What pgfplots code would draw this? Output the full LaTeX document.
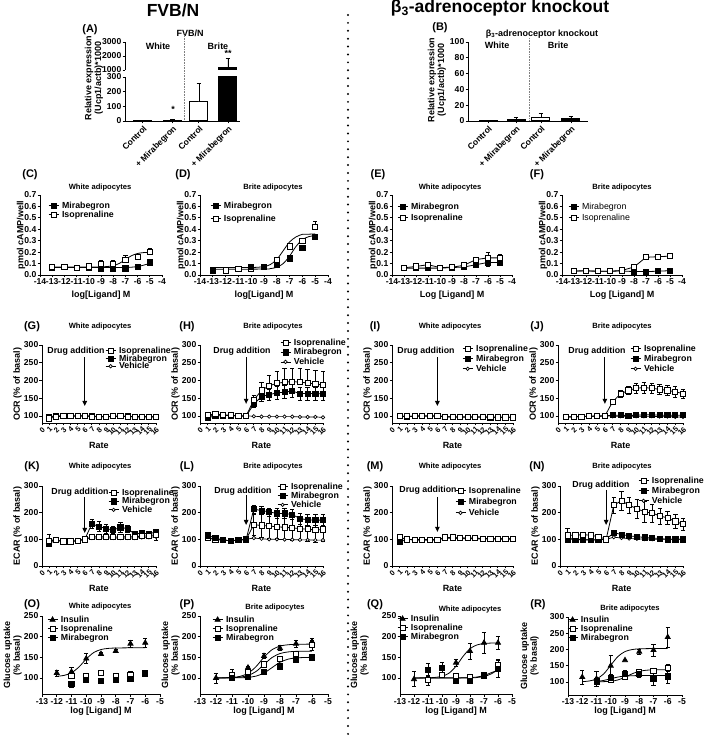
\documentclass[border=0pt]{standalone}
\usepackage{fontspec}
\setmainfont{Liberation Sans}
\usepackage{pgfplots}
\pgfplotsset{compat=1.18}
\usetikzlibrary{arrows.meta}

\newcommand{\tf}{\bfseries\fontsize{8.6}{9}\selectfont}
\newcommand{\lf}{\bfseries\fontsize{9}{9.8}\selectfont}
\newcommand{\gf}{\bfseries\fontsize{8.8}{9}\selectfont}
\newcommand{\ttl}{\bfseries\fontsize{7.6}{9}\selectfont}
\newcommand{\pl}{\bfseries\fontsize{11}{12}\selectfont}

\pgfplotsset{
 base/.style={
  scale only axis, axis lines*=left, clip=false,
  axis line style={line width=0.9pt},
  tick align=outside, major tick length=2.5pt,
  every tick/.style={black, line width=0.8pt},
  /pgf/number format/assume math mode=true,
  /pgf/number format/1000 sep={},
  scaled ticks=false,
  tick label style={font=\tf, inner sep=1pt},
  xlabel style={font=\lf, inner sep=1pt},
  ylabel style={font=\lf, align=center, inner sep=1pt},
  legend style={draw=none, fill=none, font=\gf, inner sep=0pt, anchor=north west,
     nodes={inner sep=0pt, inner xsep=3pt, text height=6.4pt, text depth=1.3pt}},
  legend cell align=left,
  legend image code/.code={\draw[##1] (0pt,0pt) -- (10pt,0pt); \draw[##1] plot coordinates {(5pt,0pt)};},
  error bars/error bar style={line width=0.7pt, solid},
  error bars/error mark options={rotate=90, mark size=2.2pt, line width=0.7pt},
 },
 camp/.style={base, height=80pt, xmin=-14, xmax=-4, xtick={-14,-13,-12,-11,-10,-9,-8,-7,-6,-5,-4},
  ymin=0, ymax=0.7, ytick={0,0.1,0.2,0.3,0.4,0.5,0.6,0.7},
  yticklabel style={/pgf/number format/fixed, /pgf/number format/fixed zerofill, /pgf/number format/precision=1},
  ylabel={pmol cAMP/well}, ylabel shift=-3pt, xlabel shift=4pt},
 rate/.style={base, xmin=0, xmax=16, xtick={0,...,16},
  xticklabel style={rotate=45, anchor=north east, font=\bfseries\fontsize{7.4}{7.4}\selectfont, inner sep=0.5pt},
  xlabel={Rate}, xlabel shift=4pt},
 ocr/.style={rate, height=78pt, ymin=80, ymax=300, ytick={100,150,200,250,300}, ylabel={OCR (\% of basal)}},
 ecar/.style={rate, height=80pt, ymin=0, ymax=300, ytick={0,100,200,300}, ylabel={ECAR (\% of basal)}},
 glu/.style={base, xmin=-13, xmax=-5, xtick={-13,...,-5}, xlabel={log [Ligand] M}, ylabel={Glucose uptake\\(\% basal)}},
 mira/.style={black, mark=square*, mark size=2.6pt, line width=0.8pt},
 iso/.style={black, mark=square*, mark size=2.6pt, mark options={fill=white}, line width=0.8pt},
 veh/.style={black, mark=*, mark size=1.7pt, mark options={fill=white}, line width=0.7pt},
 ins/.style={black, mark=triangle*, mark size=2.9pt, line width=0.8pt},
 errb/.style={error bars/.cd, y dir=both, y explicit},
 errp/.style={error bars/.cd, y dir=plus, y explicit},
 fit/.style={black, smooth, no markers, line width=0.8pt, forget plot},
}

\begin{document}
\begin{tikzpicture}[x=1pt,y=1pt]
\useasboundingbox (0,0) rectangle (709,739);

% ---------- headers ----------
\node[font=\bfseries\fontsize{17.5}{18}\selectfont] at (173,729) {FVB/N};
\node[font=\bfseries\fontsize{17.5}{18}\selectfont] at (500,731) {β\textsubscript{3}-adrenoceptor knockout};
\draw[line width=2.2pt, line cap=round, dash pattern=on 0pt off 7.9pt] (348,724) -- (348,0);

% ---------- (A) ----------
\node[font=\pl] at (90,709) {(A)};
\node[font=\lf] at (190,706) {FVB/N};
\node[font=\lf] at (158,693) {White};
\node[font=\lf] at (218,693) {Brite};
\draw[densely dotted, gray, line width=0.6pt] (184,706) -- (184,618);
\node[font=\lf, rotate=90, align=center] at (94,661) {Relative expression\\(Ucp1/actb)*1000};
\begin{axis}[base, at={(125pt,618pt)}, anchor=south west, width=115pt, height=44pt,
  xmin=0, xmax=4, ymin=0, ymax=300, ytick={0,100,200,300},
  xtick={0.62,1.65,2.57,3.58}, xticklabels={Control,+ Mirabegron,Control,+ Mirabegron},
  xticklabel style={rotate=45, anchor=north east, font=\bfseries\fontsize{8.5}{9}\selectfont}]
\addplot[ybar, bar width=18pt, bar shift=0pt, fill=white, draw=black, line width=1pt, errp]
  coordinates {(0.62,0.5) +- (0,0) (2.57,130) +- (0,130)};
\addplot[ybar, bar width=18pt, bar shift=0pt, fill=black, draw=black, line width=1pt, errp]
  coordinates {(1.65,5) +- (0,8) (3.58,300) +- (0,0)};
\end{axis}
\begin{axis}[base, at={(125pt,669pt)}, anchor=south west, width=115pt, height=28pt,
  xmin=0, xmax=4, ymin=1000, ymax=3000, ytick={1000,2000,3000},
  axis x line=none, axis y line*=left, clip=true, clip mode=individual]
\addplot[ybar, bar width=18pt, bar shift=0pt, fill=black, draw=black, line width=1pt, errp]
  coordinates {(3.58,1150) +- (0,700)};
\end{axis}
\node[font=\lf] at (173,630) {*};
\node[font=\lf] at (228,686) {**};

% ---------- (B) ----------
\node[font=\pl] at (440,711) {(B)};
\node[font=\lf] at (542,705) {β\textsubscript{3}-adrenoceptor knockout};
\node[font=\lf] at (497,694) {White};
\node[font=\lf] at (558,694) {Brite};
\draw[densely dotted, gray, line width=0.6pt] (529,701) -- (529,618);
\node[font=\lf, rotate=90, align=center] at (437,659) {Relative expression\\(Ucp1/actb)*1000};
\begin{axis}[base, at={(468pt,618pt)}, anchor=south west, width=120pt, height=79pt,
  xmin=0, xmax=4, ymin=0, ymax=100, ytick={0,20,40,60,80,100},
  xtick={0.67,1.6,2.43,3.43}, xticklabels={Control,+ Mirabegron,Control,+ Mirabegron},
  xticklabel style={rotate=45, anchor=north east, font=\bfseries\fontsize{8.5}{9}\selectfont}]
\addplot[ybar, bar width=18pt, bar shift=0pt, fill=white, draw=black, line width=1pt, errp]
  coordinates {(0.67,0.5) +- (0,0) (2.43,5) +- (0,5)};
\addplot[ybar, bar width=18pt, bar shift=0pt, fill=black, draw=black, line width=1pt, errp]
  coordinates {(1.6,2) +- (0,2) (3.43,3) +- (0,3)};
\end{axis}

% ---------- row C-F ----------
\node[font=\pl] at (30,564) {(C)};
\node[font=\pl] at (183,564) {(D)};
\node[font=\pl] at (378,564) {(E)};
\node[font=\pl] at (537,564) {(F)};
\node[font=\ttl] at (100,551) {White adipocytes};
\node[font=\ttl] at (273,551) {Brite adipocytes};
\node[font=\ttl] at (450,551) {White adipocytes};
\node[font=\ttl] at (622,551) {Brite adipocytes};

\begin{axis}[camp, at={(40pt,464pt)}, anchor=south west, width=122pt, xlabel={log[Ligand] M},
  legend style={at={(0.066,0.915)}, row sep=1.3pt}]
\addlegendimage{mira}\addlegendentry{Mirabegron}
\addlegendimage{iso}\addlegendentry{Isoprenaline}
\addplot[fit] coordinates {(-13,0.065)(-10,0.065)(-8,0.0652)(-7,0.0656)(-6.5,0.0683)(-6,0.0741)(-5.5,0.0863)(-5,0.1017)};
\addplot[fit] coordinates {(-13,0.07)(-10,0.07)(-9,0.0713)(-8.5,0.074)(-8,0.0818)(-7.5,0.1012)(-7,0.135)(-6.5,0.1688)(-6,0.1882)(-5.5,0.196)(-5,0.1987)};
\addplot[mira, only marks, forget plot] coordinates {(-13,0.065)(-12,0.068)(-11,0.063)(-10,0.06)(-9,0.058)(-8,0.058)(-7,0.058)(-6,0.068)(-5,0.11)};
\addplot[iso, only marks, forget plot, errp] coordinates {(-13,0.068)+-(0,0)(-12,0.07)+-(0,0)(-11,0.065)+-(0,0)(-10,0.075)+-(0,0.01)(-9,0.10)+-(0,0.03)(-8,0.10)+-(0,0.03)(-7,0.13)+-(0,0.045)(-6,0.155)+-(0,0.03)(-5,0.20)+-(0,0.03)};
\end{axis}

\begin{axis}[camp, at={(200pt,464pt)}, anchor=south west, width=128pt, xlabel={log[Ligand] M},
  legend style={at={(0.078,0.915)}, row sep=5.3pt}]
\addlegendimage{mira}\addlegendentry{Mirabegron}
\addlegendimage{iso}\addlegendentry{Isoprenaline}
\addplot[fit] coordinates {(-13,0.065)(-10,0.0653)(-9,0.074)(-8.5,0.0918)(-8,0.1358)(-7.5,0.2125)(-7,0.2892)(-6.5,0.3332)(-6,0.3556)(-5.5,0.3571)(-5,0.3597)};
\addplot[fit] coordinates {(-13,0.05)(-9,0.052)(-8.5,0.0559)(-8,0.0678)(-7.5,0.0998)(-7,0.166)(-6.5,0.2498)(-6,0.309)(-5.5,0.3356)(-5,0.345)};
\addplot[iso, only marks, forget plot, errp] coordinates {(-12,0.04)+-(0,0)(-11,0.05)+-(0,0.01)(-10,0.05)+-(0,0.015)(-9,0.07)+-(0,0.02)(-8,0.13)+-(0,0.02)(-7,0.25)+-(0,0.03)(-6,0.30)+-(0,0.02)(-5,0.42)+-(0,0.05)};
\addplot[mira, only marks, forget plot, errp] coordinates {(-13,0.04)+-(0,0)(-10,0.07)+-(0,0.01)(-9,0.07)+-(0,0.01)(-8,0.09)+-(0,0.01)(-7,0.145)+-(0,0.01)(-6,0.24)+-(0,0.01)(-5,0.33)+-(0,0.03)};
\end{axis}

\begin{axis}[camp, at={(392pt,464pt)}, anchor=south west, width=120pt, xlabel={Log [Ligand] M},
  legend style={at={(0.042,0.9025)}, row sep=3.3pt}]
\addlegendimage{mira}\addlegendentry{Mirabegron}
\addlegendimage{iso}\addlegendentry{Isoprenaline}
\addplot[mira, forget plot, errb] coordinates {(-13,0.06)+-(0,0)(-12,0.06)+-(0,0)(-11,0.06)+-(0,0)(-10,0.06)+-(0,0)(-9,0.065)+-(0,0)(-8,0.07)+-(0,0.01)(-7,0.09)+-(0,0.02)(-6,0.11)+-(0,0.03)(-5,0.11)+-(0,0.02)};
\addplot[iso, forget plot, errb] coordinates {(-13,0.063)+-(0,0)(-12,0.075)+-(0,0)(-11,0.09)+-(0,0.015)(-10,0.065)+-(0,0)(-9,0.068)+-(0,0)(-8,0.085)+-(0,0.01)(-7,0.135)+-(0,0.02)(-6,0.15)+-(0,0.045)(-5,0.15)+-(0,0.03)};
\end{axis}

\begin{axis}[camp, at={(562pt,464pt)}, anchor=south west, width=120pt, xlabel={Log [Ligand] M},
  legend style={at={(0.05,0.9025)}, row sep=3.3pt, font=\fontsize{8.8}{9}\selectfont}]
\addlegendimage{mira}\addlegendentry{Mirabegron}
\addlegendimage{iso}\addlegendentry{Isoprenaline}
\addplot[mira, forget plot] coordinates {(-13,0.035)(-12,0.035)(-11,0.033)(-10,0.033)(-9,0.035)(-8,0.03)(-7,0.03)(-6,0.033)(-5,0.038)};
\addplot[iso, forget plot, errb] coordinates {(-13,0.035)+-(0,0)(-12,0.037)+-(0,0)(-11,0.033)+-(0,0)(-10,0.033)+-(0,0)(-9,0.04)+-(0,0)(-8,0.07)+-(0,0.01)(-7,0.155)+-(0,0.02)(-6,0.16)+-(0,0.02)(-5,0.165)+-(0,0.02)};
\end{axis}

% ---------- row G-J (OCR) ----------
\node[font=\pl] at (32,412) {(G)};
\node[font=\pl] at (187,412) {(H)};
\node[font=\pl] at (375,412) {(I)};
\node[font=\pl] at (537,412) {(J)};
\node[font=\ttl] at (100,412) {White adipocytes};
\node[font=\ttl] at (273,412) {Brite adipocytes};
\node[font=\ttl] at (450,412) {White adipocytes};
\node[font=\ttl] at (622,412) {Brite adipocytes};
\node[font=\gf] at (76,388) {Drug addition};
\node[font=\gf] at (242,388) {Drug addition};
\node[font=\gf] at (426,388) {Drug addition};
\node[font=\gf] at (597,388) {Drug addition};

\begin{axis}[ocr, at={(42pt,316pt)}, anchor=south west, width=114pt,
  legend style={at={(0.553,0.977)}, row sep=0pt}]
\addlegendimage{iso}\addlegendentry{Isoprenaline}
\addlegendimage{mira}\addlegendentry{Mirabegron}
\addlegendimage{veh}\addlegendentry{Vehicle}
\draw[-{Triangle[length=5pt,width=4.5pt]}, line width=1pt] (axis cs:6,266) -- (axis cs:6,128);
\addplot[veh, forget plot] coordinates {(1,98)(2,100)(3,100)(4,100)(5,100)(6,101)(7,99)(8,99)(9,98)(10,99)(11,99)(12,99)(13,98)(14,98)(15,98)(16,97)};
\addplot[mira, forget plot] coordinates {(1,97)(2,99)(3,100)(4,100)(5,100)(6,100)(7,99)(8,98)(9,98)(10,99)(11,99)(12,99)(13,98)(14,98)(15,98)(16,97)};
\addplot[iso, forget plot] coordinates {(1,93)(2,97)(3,100)(4,100)(5,100)(6,100)(7,98)(8,98)(9,97)(10,99)(11,99)(12,98)(13,97)(14,97)(15,97)(16,97)};
\end{axis}

\begin{axis}[ocr, at={(200pt,316pt)}, anchor=south west, width=123pt,
  legend style={at={(0.65,1.079)}, row sep=1.8pt}]
\addlegendimage{iso}\addlegendentry{Isoprenaline}
\addlegendimage{mira}\addlegendentry{Mirabegron}
\addlegendimage{veh}\addlegendentry{Vehicle}
\draw[-{Triangle[length=5pt,width=4.5pt]}, line width=1pt] (axis cs:6,266) -- (axis cs:6,134);
\addplot[veh, forget plot] coordinates {(1,100)(2,103)(3,102)(4,101)(5,100)(6,100)(7,99)(8,98)(9,98)(10,98)(11,98)(12,98)(13,97)(14,97)(15,97)(16,96)};
\addplot[mira, forget plot, errb] coordinates {(1,95)+-(0,0)(2,100)+-(0,0)(3,101)+-(0,0)(4,101)+-(0,0)(5,100)+-(0,0)(6,100)+-(0,0)(7,133)+-(0,8)(8,155)+-(0,15)(9,160)+-(0,15)(10,165)+-(0,17)(11,167)+-(0,18)(12,170)+-(0,18)(13,163)+-(0,18)(14,163)+-(0,18)(15,163)+-(0,18)(16,162)+-(0,18)};
\addplot[iso, forget plot, errp] coordinates {(1,103)+-(0,0)(2,105)+-(0,0)(3,103)+-(0,0)(4,102)+-(0,0)(5,100)+-(0,0)(6,100)+-(0,0)(7,145)+-(0,12)(8,172)+-(0,22)(9,185)+-(0,30)(10,192)+-(0,35)(11,195)+-(0,38)(12,197)+-(0,38)(13,195)+-(0,40)(14,193)+-(0,38)(15,190)+-(0,38)(16,187)+-(0,38)};
\end{axis}

\begin{axis}[ocr, at={(392pt,316pt)}, anchor=south west, width=121pt,
  legend style={at={(0.579,1.003)}, row sep=2.3pt}]
\addlegendimage{iso}\addlegendentry{Isoprenaline}
\addlegendimage{mira}\addlegendentry{Mirabegron}
\addlegendimage{veh}\addlegendentry{Vehicle}
\draw[-{Triangle[length=5pt,width=4.5pt]}, line width=1pt] (axis cs:6,266) -- (axis cs:6,128);
\addplot[veh, forget plot] coordinates {(1,99)(2,99)(3,99)(4,100)(5,100)(6,100)(7,98)(8,97)(9,97)(10,97)(11,97)(12,97)(13,97)(14,96)(15,96)(16,96)};
\addplot[mira, forget plot] coordinates {(1,99)(2,98)(3,99)(4,100)(5,100)(6,100)(7,97)(8,97)(9,97)(10,97)(11,97)(12,97)(13,96)(14,96)(15,96)(16,96)};
\addplot[iso, forget plot] coordinates {(1,99)(2,99)(3,99)(4,100)(5,100)(6,100)(7,98)(8,97)(9,97)(10,97)(11,97)(12,97)(13,97)(14,96)(15,96)(16,96)};
\end{axis}

\begin{axis}[ocr, at={(558pt,316pt)}, anchor=south west, width=125pt,
  legend style={at={(0.576,1.003)}, row sep=2.3pt}]
\addlegendimage{iso}\addlegendentry{Isoprenaline}
\addlegendimage{mira}\addlegendentry{Mirabegron}
\addlegendimage{veh}\addlegendentry{Vehicle}
\draw[-{Triangle[length=5pt,width=4.5pt]}, line width=1pt] (axis cs:6,266) -- (axis cs:6,134);
\addplot[veh, forget plot] coordinates {(1,98)(2,98)(3,99)(4,99)(5,100)(6,100)(7,99)(8,99)(9,99)(10,99)(11,99)(12,99)(13,98)(14,98)(15,97)(16,97)};
\addplot[mira, forget plot] coordinates {(1,97)(2,97)(3,98)(4,99)(5,99)(6,100)(7,102)(8,102)(9,101)(10,102)(11,103)(12,103)(13,102)(14,102)(15,102)(16,102)};
\addplot[iso, forget plot, errb] coordinates {(1,97)+-(0,0)(2,97)+-(0,0)(3,98)+-(0,0)(4,99)+-(0,0)(5,99)+-(0,0)(6,100)+-(0,0)(7,140)+-(0,5)(8,162)+-(0,10)(9,172)+-(0,12)(10,178)+-(0,15)(11,180)+-(0,15)(12,178)+-(0,15)(13,175)+-(0,15)(14,172)+-(0,15)(15,168)+-(0,15)(16,163)+-(0,13)};
\end{axis}

% ---------- row K-N (ECAR) ----------
\node[font=\pl] at (32,272) {(K)};
\node[font=\pl] at (187,272) {(L)};
\node[font=\pl] at (375,272) {(M)};
\node[font=\pl] at (537,272) {(N)};
\node[font=\ttl] at (100,272) {White adipocytes};
\node[font=\ttl] at (273,272) {Brite adipocytes};
\node[font=\ttl] at (450,272) {White adipocytes};
\node[font=\ttl] at (622,272) {Brite adipocytes};
\node[font=\gf] at (80,247) {Drug addition};
\node[font=\gf] at (243,248) {Drug addition};
\node[font=\gf] at (428,249) {Drug addition};
\node[font=\gf] at (601,254) {Drug addition};

\begin{axis}[ecar, at={(42pt,173pt)}, anchor=south west, width=114pt,
  legend style={at={(0.579,0.965)}, row sep=0.8pt}]
\addlegendimage{iso}\addlegendentry{Isoprenaline}
\addlegendimage{mira}\addlegendentry{Mirabegron}
\addlegendimage{veh}\addlegendentry{Vehicle}
\draw[-{Triangle[length=5pt,width=4.5pt]}, line width=1pt] (axis cs:6,259) -- (axis cs:6,124);
\addplot[veh, forget plot, errb] coordinates {(1,100)+-(0,18)(2,95)+-(0,0)(3,92)+-(0,0)(4,92)+-(0,0)(5,95)+-(0,0)(6,100)+-(0,0)(7,105)+-(0,0)(8,105)+-(0,0)(9,105)+-(0,0)(10,105)+-(0,0)(11,105)+-(0,0)(12,105)+-(0,0)(13,105)+-(0,0)(14,107)+-(0,0)(15,108)+-(0,0)(16,110)+-(0,15)};
\addplot[mira, forget plot, errb] coordinates {(1,85)+-(0,12)(2,97)+-(0,0)(3,92)+-(0,0)(4,92)+-(0,0)(5,95)+-(0,0)(6,100)+-(0,0)(7,158)+-(0,18)(8,148)+-(0,18)(9,140)+-(0,18)(10,135)+-(0,12)(11,145)+-(0,18)(12,140)+-(0,12)(13,120)+-(0,8)(14,123)+-(0,5)(15,120)+-(0,5)(16,128)+-(0,5)};
\addplot[iso, forget plot] coordinates {(1,95)(2,97)(3,92)(4,92)(5,95)(6,100)(7,110)(8,110)(9,110)(10,108)(11,110)(12,110)(13,110)(14,112)(15,113)(16,118)};
\end{axis}

\begin{axis}[ecar, at={(200pt,173pt)}, anchor=south west, width=123pt,
  legend style={at={(0.626,1.04)}, row sep=1.3pt}]
\addlegendimage{iso}\addlegendentry{Isoprenaline}
\addlegendimage{mira}\addlegendentry{Mirabegron}
\addlegendimage{veh}\addlegendentry{Vehicle}
\draw[-{Triangle[length=5pt,width=4.5pt]}, line width=1pt] (axis cs:6,266) -- (axis cs:6,154);
\addplot[veh, forget plot] coordinates {(1,105)(2,100)(3,97)(4,95)(5,97)(6,100)(7,105)(8,102)(9,100)(10,100)(11,99)(12,99)(13,98)(14,98)(15,97)(16,97)};
\addplot[iso, forget plot, errb] coordinates {(1,105)+-(0,0)(2,100)+-(0,0)(3,97)+-(0,0)(4,95)+-(0,0)(5,97)+-(0,0)(6,100)+-(0,0)(7,155)+-(0,40)(8,152)+-(0,45)(9,150)+-(0,45)(10,147)+-(0,45)(11,145)+-(0,45)(12,143)+-(0,45)(13,140)+-(0,45)(14,138)+-(0,45)(15,135)+-(0,45)(16,137)+-(0,45)};
\addplot[mira, forget plot, errb] coordinates {(1,115)+-(0,5)(2,105)+-(0,0)(3,97)+-(0,0)(4,95)+-(0,0)(5,97)+-(0,0)(6,100)+-(0,0)(7,213)+-(0,15)(8,208)+-(0,15)(9,203)+-(0,15)(10,197)+-(0,18)(11,197)+-(0,18)(12,193)+-(0,18)(13,178)+-(0,20)(14,173)+-(0,20)(15,172)+-(0,20)(16,172)+-(0,20)};
\end{axis}

\begin{axis}[ecar, at={(392pt,173pt)}, anchor=south west, width=121pt,
  legend style={at={(0.52,0.99)}, row sep=3.3pt}]
\addlegendimage{iso}\addlegendentry{Isoprenaline}
\addlegendimage{mira}\addlegendentry{Mirabegron}
\addlegendimage{veh}\addlegendentry{Vehicle}
\draw[-{Triangle[length=5pt,width=4.5pt]}, line width=1pt] (axis cs:6,259) -- (axis cs:6,128);
\addplot[veh, forget plot] coordinates {(1,105)(2,100)(3,99)(4,99)(5,99)(6,100)(7,104)(8,104)(9,103)(10,102)(11,102)(12,101)(13,101)(14,101)(15,100)(16,100)};
\addplot[mira, forget plot] coordinates {(1,90)(2,100)(3,98)(4,98)(5,98)(6,98)(7,105)(8,107)(9,105)(10,104)(11,104)(12,103)(13,103)(14,102)(15,102)(16,102)};
\addplot[iso, forget plot, errb] coordinates {(1,108)+-(0,8)(2,100)+-(0,0)(3,98)+-(0,0)(4,98)+-(0,0)(5,98)+-(0,0)(6,98)+-(0,0)(7,107)+-(0,0)(8,107)+-(0,0)(9,105)+-(0,0)(10,105)+-(0,0)(11,104)+-(0,0)(12,103)+-(0,0)(13,103)+-(0,0)(14,102)+-(0,0)(15,102)+-(0,0)(16,102)+-(0,0)};
\end{axis}

\begin{axis}[ecar, at={(560pt,173pt)}, anchor=south west, width=123pt,
  legend style={at={(0.634,1.115)}, row sep=2.3pt}]
\addlegendimage{iso}\addlegendentry{Isoprenaline}
\addlegendimage{mira}\addlegendentry{Mirabegron}
\addlegendimage{veh}\addlegendentry{Vehicle}
\draw[-{Triangle[length=5pt,width=4.5pt]}, line width=1pt] (axis cs:6,285) -- (axis cs:6,154);
\addplot[veh, forget plot] coordinates {(1,105)(2,100)(3,99)(4,98)(5,98)(6,100)(7,108)(8,105)(9,103)(10,102)(11,101)(12,101)(13,100)(14,100)(15,100)(16,100)};
\addplot[mira, forget plot, errb] coordinates {(1,100)+-(0,12)(2,100)+-(0,0)(3,98)+-(0,0)(4,98)+-(0,0)(5,98)+-(0,0)(6,100)+-(0,0)(7,125)+-(0,0)(8,118)+-(0,0)(9,113)+-(0,0)(10,110)+-(0,0)(11,107)+-(0,0)(12,105)+-(0,0)(13,103)+-(0,0)(14,100)+-(0,0)(15,100)+-(0,0)(16,100)+-(0,0)};
\addplot[iso, forget plot, errb] coordinates {(1,115)+-(0,25)(2,115)+-(0,12)(3,118)+-(0,8)(4,115)+-(0,5)(5,110)+-(0,0)(6,100)+-(0,0)(7,228)+-(0,30)(8,245)+-(0,35)(9,228)+-(0,30)(10,215)+-(0,35)(11,203)+-(0,38)(12,198)+-(0,35)(13,188)+-(0,30)(14,180)+-(0,25)(15,167)+-(0,25)(16,157)+-(0,22)};
\end{axis}

% ---------- row O-R (glucose) ----------
\node[font=\pl] at (32,134) {(O)};
\node[font=\pl] at (187,134) {(P)};
\node[font=\pl] at (375,134) {(Q)};
\node[font=\pl] at (538,134) {(R)};
\node[font=\ttl] at (100,132) {White adipocytes};
\node[font=\ttl] at (275,131) {Brite adipocytes};
\node[font=\ttl] at (470,129) {White adipocytes};
\node[font=\ttl] at (630,130) {Brite adipocytes};

\begin{axis}[glu, at={(42pt,44.5pt)}, anchor=south west, width=118pt, height=78.5pt,
  ymin=60, ymax=250, ytick={100,150,200,250},
  legend style={at={(0.042,1.003)}, row sep=1.3pt}]
\addlegendimage{ins}\addlegendentry{Insulin}
\addlegendimage{iso}\addlegendentry{Isoprenaline}
\addlegendimage{mira}\addlegendentry{Mirabegron}
\addplot[fit] coordinates {(-12,104.1)(-11.5,106.3)(-11,112.6)(-10.5,126.4)(-10,145.9)(-9.5,161.4)(-9,168.9)(-8.5,171.6)(-8,172.5)(-7,173)(-6,173)};
\addplot[ins, only marks, forget plot, errb] coordinates {(-12,112)+-(0,7)(-11,115)+-(0,10)(-10,147)+-(0,12)(-9,158)+-(0,4)(-8,165)+-(0,4)(-7,183)+-(0,8)(-6,185)+-(0,10)};
\addplot[iso, only marks, forget plot, errb] coordinates {(-11,105)+-(0,6)(-10,105)+-(0,6)(-9,113)+-(0,5)(-8,105)+-(0,5)(-7,107)+-(0,10)(-6,113)+-(0,6)};
\addplot[mira, only marks, forget plot, errb] coordinates {(-11,85)+-(0,8)(-10,95)+-(0,3)(-9,93)+-(0,3)(-8,95)+-(0,3)(-7,97)+-(0,3)(-6,110)+-(0,4)};
\end{axis}

\begin{axis}[glu, at={(200pt,44.5pt)}, anchor=south west, width=128pt, height=78.5pt,
  ymin=60, ymax=250, ytick={100,150,200,250},
  legend style={at={(0.094,1.003)}, row sep=1.3pt}]
\addlegendimage{ins}\addlegendentry{Insulin}
\addlegendimage{iso}\addlegendentry{Isoprenaline}
\addlegendimage{mira}\addlegendentry{Mirabegron}
\addplot[fit] coordinates {(-12,100.1)(-11,101.3)(-10.5,103.9)(-10,111.2)(-9.5,127.4)(-9,150.3)(-8.5,168.4)(-8,177.2)(-7.5,180.4)(-7,181.5)(-6,182)};
\addplot[fit] coordinates {(-12,100)(-11,100.6)(-10.5,102)(-10,105.9)(-9.5,115.6)(-9,132.5)(-8.5,149.4)(-8,159.1)(-7.5,163)(-7,164.4)(-6,165)};
\addplot[fit] coordinates {(-12,100)(-10.5,100.5)(-10,101.5)(-9.5,104.5)(-9,112)(-8.5,125)(-8,138)(-7.5,145.5)(-7,148.5)(-6.5,149.5)(-6,150)};
\addplot[ins, only marks, forget plot, errb] coordinates {(-12,100)+-(0,12)(-11,105)+-(0,5)(-10,125)+-(0,4)(-9,153)+-(0,6)(-8,172)+-(0,6)(-7,183)+-(0,8)(-6,188)+-(0,8)};
\addplot[iso, only marks, forget plot, errb] coordinates {(-11,108)+-(0,12)(-10,115)+-(0,6)(-9,133)+-(0,8)(-8,147)+-(0,6)(-7,157)+-(0,6)(-6,180)+-(0,12)};
\addplot[mira, only marks, forget plot, errb] coordinates {(-11,100)+-(0,3)(-10,103)+-(0,3)(-9,115)+-(0,5)(-8,128)+-(0,4)(-7,145)+-(0,4)(-6,150)+-(0,5)};
\end{axis}

\begin{axis}[glu, at={(400pt,44.5pt)}, anchor=south west, width=112pt, height=78.5pt,
  ymin=60, ymax=250, ytick={100,150,200,250}, ylabel shift=11pt,
  legend style={at={(-0.027,1.015)}, row sep=1.3pt}]
\addlegendimage{ins}\addlegendentry{Insulin}
\addlegendimage{iso}\addlegendentry{Isoprenaline}
\addlegendimage{mira}\addlegendentry{Mirabegron}
\addplot[fit] coordinates {(-12,100)(-11,100.5)(-10.5,101.3)(-10,104.1)(-9.5,111.6)(-9,128.4)(-8.5,152.1)(-8,170.9)(-7.5,180)(-7,183.3)(-6.5,184.5)(-6,185)};
\addplot[fit] coordinates {(-12,100)(-8,100.4)(-7.5,101.2)(-7,103.6)(-6.5,109.6)(-6,120)};
\addplot[fit] coordinates {(-12,100)(-8.5,100.2)(-8,100.8)(-7.5,102.3)(-7,106)(-6.5,112.5)(-6,119)};
\addplot[ins, only marks, forget plot, errb] coordinates {(-12,97)+-(0,18)(-9,137)+-(0,8)(-8,165)+-(0,20)(-7,185)+-(0,25)(-6,185)+-(0,15)};
\addplot[iso, only marks, forget plot, errb] coordinates {(-11,95)+-(0,12)(-10,108)+-(0,6)(-9,105)+-(0,5)(-8,103)+-(0,5)(-7,105)+-(0,5)(-6,132)+-(0,13)};
\addplot[mira, only marks, forget plot, errb] coordinates {(-11,120)+-(0,15)(-10,125)+-(0,12)(-9,93)+-(0,4)(-8,93)+-(0,4)(-7,107)+-(0,4)(-6,122)+-(0,20)};
\end{axis}

\begin{axis}[glu, at={(568pt,44pt)}, anchor=south west, width=114pt, height=78pt,
  ymin=60, ymax=300, ytick={100,150,200,250,300}, ylabel shift=9pt,
  legend style={at={(-0.009,1.015)}, row sep=1.3pt}]
\addlegendimage{ins}\addlegendentry{Insulin}
\addlegendimage{iso}\addlegendentry{Isoprenaline}
\addlegendimage{mira}\addlegendentry{Mirabegron}
\addplot[fit] coordinates {(-12,101)(-11.5,103.2)(-11,109.4)(-10.5,124.7)(-10,151.5)(-9.5,178.3)(-9,193.6)(-8.5,199.8)(-8,202)(-7,203)(-6,203)};
\addplot[fit] coordinates {(-11,100.2)(-10,102.3)(-9.5,106.3)(-9,114.7)(-8.5,125.3)(-8,132.8)(-7.5,136.2)(-7,137.4)(-6,138)};
\addplot[fit] coordinates {(-11,101.8)(-10.5,104.8)(-10,110)(-9.5,115.2)(-9,118.2)(-8,119.8)(-6,120)};
\addplot[ins, only marks, forget plot, errb] coordinates {(-12,115)+-(0,22)(-11,110)+-(0,22)(-10,150)+-(0,32)(-9,167)+-(0,0)(-8,193)+-(0,8)(-7,198)+-(0,18)(-6,238)+-(0,30)};
\addplot[iso, only marks, forget plot, errb] coordinates {(-11,100)+-(0,5)(-10,108)+-(0,5)(-9,115)+-(0,5)(-8,130)+-(0,10)(-7,133)+-(0,5)(-6,143)+-(0,10)};
\addplot[mira, only marks, forget plot, errb] coordinates {(-11,103)+-(0,5)(-10,113)+-(0,12)(-9,125)+-(0,12)(-8,125)+-(0,12)(-7,110)+-(0,20)(-6,117)+-(0,20)};
\end{axis}

\end{tikzpicture}
\end{document}
